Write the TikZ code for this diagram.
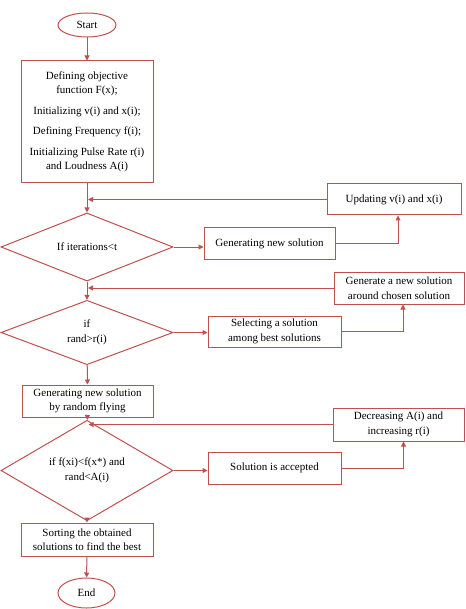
\documentclass[tikz,border=0pt]{standalone}
\usepackage{fontspec}
\setmainfont{Liberation Serif}
\usetikzlibrary{shapes.geometric,arrows.meta}
\definecolor{flowred}{RGB}{192,80,77}

\begin{document}
\begin{tikzpicture}[x=1pt,y=-1pt,line width=1pt,
  font=\fontsize{11}{14.5}\selectfont]
\tikzset{terminal/.style={ellipse,draw=flowred,inner sep=0pt},
process/.style={rectangle,draw=flowred,align=center,inner sep=2pt},
decision/.style={diamond,draw=flowred,align=center,inner sep=0pt,
  minimum width=172,minimum height=62},
flowline/.style={draw=flowred,-{Triangle[length=5pt,width=5pt]}},
}
\useasboundingbox (0,0) rectangle (465,609);
\node[terminal,minimum width=58,minimum height=24] (start) at (87,25) {Start};
\node[process,minimum width=132,minimum height=122] (init) at (87,122)
  {Defining objective\\ function F(x);\\[6pt]
   Initializing v(i) and x(i);\\[6pt]
   Defining Frequency f(i);\\[6pt]
   Initializing Pulse Rate r(i)\\ and Loudness A(i)};
\node[process,minimum width=134,minimum height=31] (upd) at (394,199.5) {Updating v(i) and x(i)};
\node[decision] (d1) at (87,247) {If iterations<t};
\node[process,minimum width=131,minimum height=31] (gen) at (269.5,243.5) {Generating new solution};
\node[process,minimum width=130,minimum height=32] (around) at (399,288)
  {Generate a new solution\\ around chosen solution};
\node[decision,minimum height=61] (d2) at (87,332.5) {if\\ rand>r(i)};
\node[process,minimum width=133,minimum height=31] (sel) at (274.5,331.5)
  {Selecting a solution\\ among best solutions};
\node[process,minimum width=131,minimum height=32] (fly) at (87.5,401)
  {Generating new solution\\ by random flying};
\node[process,minimum width=131,minimum height=33] (dec) at (398.5,424.5)
  {Decreasing A(i) and\\ increasing r(i)};
\node[decision,minimum height=63] (d3) at (87,470.5) {if f(xi)<f(x*) and\\ rand<A(i)};
\node[process,minimum width=133,minimum height=32] (acc) at (274.5,468) {Solution is accepted};
\node[process,minimum width=132,minimum height=33] (sort) at (87,539.5)
  {Sorting the obtained\\ solutions to find the best};
\node[terminal,minimum width=57,minimum height=30] (end) at (86.5,593) {End};

% main flow
\draw[flowline] (start) -- (init);
\draw[flowline] (init) -- (d1);
\draw[flowline] (d1) -- (d2);
\draw[flowline] (d2) -- (fly);
\draw[flowline] (fly) -- (d3);
\draw[flowline] (d3) -- (sort);
\draw[flowline] (sort) -- (end);
% side branches
\draw[flowline] (d1.east) -- (d1.east -| gen.west);
\draw[flowline] (d2.east) -- (d2.east -| sel.west);
\draw[flowline] (d3.east) -- (d3.east -| acc.west);
\draw[flowline] (gen.east) -| ([xshift=4]upd.south);
\draw[flowline] (sel.east) -| ([xshift=4]around.south);
\draw[flowline] (acc.east) -| ([xshift=5]dec.south);
% loops back
\draw[flowline] (upd.west) -- ([xshift=1]upd.west -| init.south);
\draw[flowline] (around.west) -- ([xshift=1]around.west -| d1.south);
\draw[flowline] (dec.west) -- ([xshift=1]dec.west -| fly.south);
\end{tikzpicture}
\end{document}
